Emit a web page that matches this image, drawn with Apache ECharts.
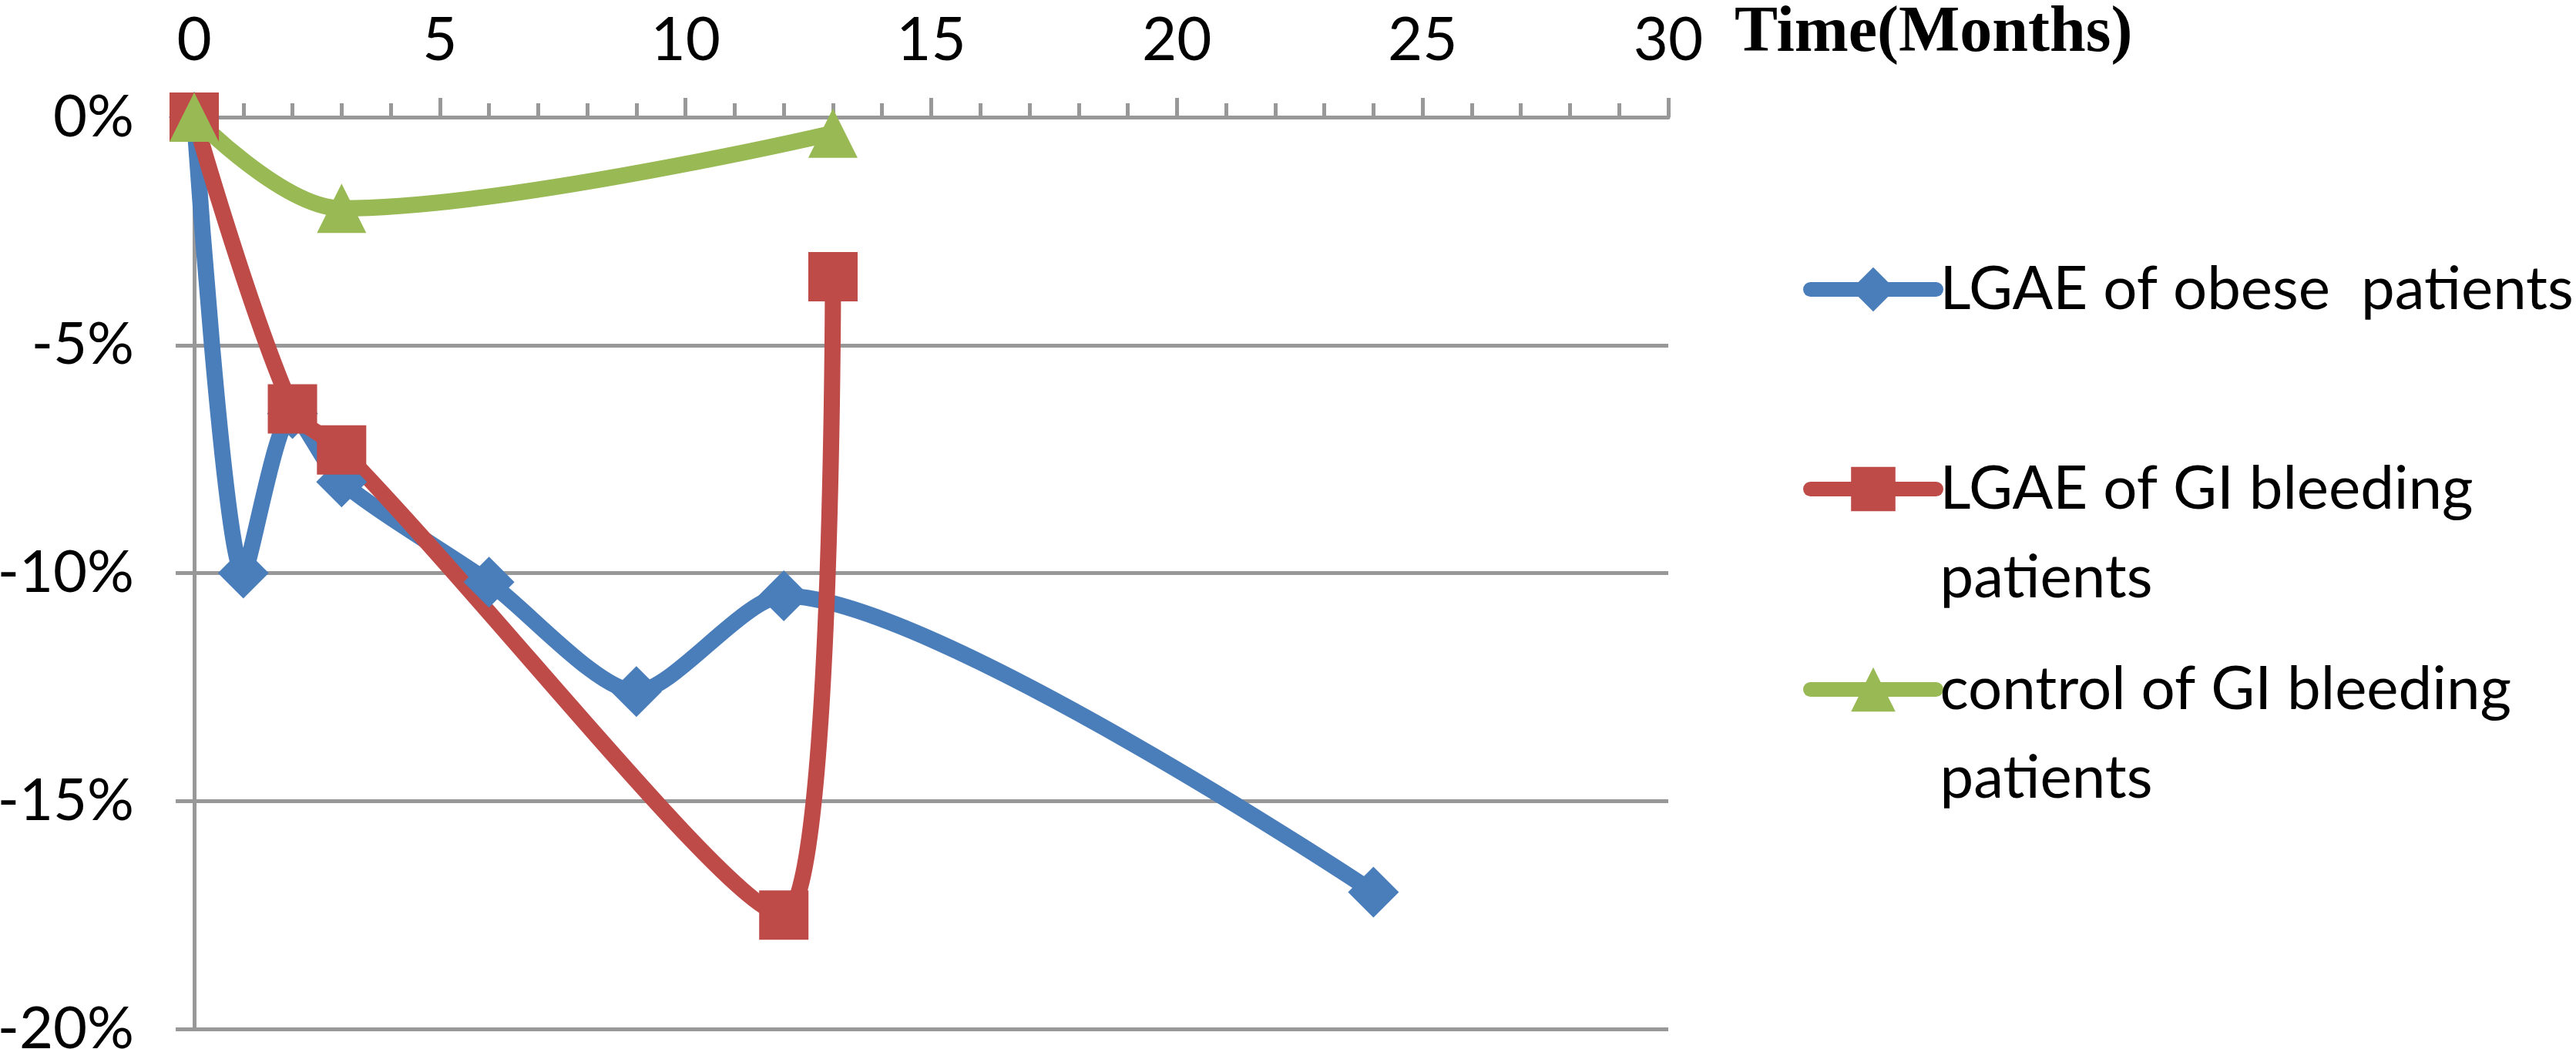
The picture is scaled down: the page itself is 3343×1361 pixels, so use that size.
<!DOCTYPE html>
<html>
<head>
<meta charset="utf-8">
<script src="https://cdn.jsdelivr.net/npm/echarts@6/dist/echarts.min.js"></script>
<style>
html, body { margin: 0; padding: 0; background: #ffffff; }
#chart { width: 3343px; height: 1361px; }
</style>
</head>
<body>
<div id="chart"></div>
<script>
// ---- data (months, % change) ----
const seriesNames = ['LGAE of obese  patients', 'LGAE of GI bleeding patients', 'control of GI bleeding patients'];
const legendLabels = ['LGAE of obese  patients', '\nLGAE of GI bleeding\npatients', '\ncontrol of GI bleeding\npatients'];

const obeseMonths = [0, 1, 2, 3, 6, 9, 12, 24];
const obeseValues = [0, -10, -6.5, -8, -10.2, -12.6, -10.5, -17];

const giMonths = [0, 2, 3, 12, 13];
const giValues = [0, -6.4, -7.3, -17.5, -3.5];

const ctrlMonths = [0, 3, 13];
const ctrlValues = [0, -2, -0.35];

const xMin = 0, xMax = 30, xStep = 5;
const yMin = -20, yMax = 0, yStep = 5;
const xAxisTitle = 'Time(Months)';

const colors = ['#4A7EBB', '#BE4B48', '#98B954'];
const gray = '#989898';

function pairs(xs, ys) { return xs.map((x, i) => [x, ys[i]]); }
const labelMap = {};
seriesNames.forEach((n, i) => { labelMap[n] = legendLabels[i]; });

const chart = echarts.init(document.getElementById('chart'), null, { renderer: 'canvas' });

const legendBase = {
  orient: 'vertical',
  padding: 0,
  itemWidth: 163,
  itemHeight: 72,
  itemGap: 0,
  left: 2340,
  formatter: (name) => labelMap[name],
  lineStyle: { width: 19, cap: 'round' },
  textStyle: { fontFamily: 'Lato', fontSize: 78, color: '#000', lineHeight: 115 }
};

const option = {
  animation: false,
  backgroundColor: '#ffffff',
  title: {
    text: xAxisTitle,
    left: 2251,
    top: 2,
    padding: 0,
    textStyle: { fontFamily: 'Liberation Serif', fontWeight: 'bold', fontSize: 84, color: '#000' }
  },
  legend: [
    Object.assign({}, legendBase, { data: [seriesNames[0]], top: 318 }),
    Object.assign({}, legendBase, { data: [seriesNames[1]], top: 462 }),
    Object.assign({}, legendBase, { data: [seriesNames[2]], top: 722 })
  ],
  grid: { left: 252, right: 1178, top: 152, bottom: 26, containLabel: false, outerBoundsMode: 'none' },
  xAxis: {
    type: 'value',
    position: 'top',
    min: xMin, max: xMax, interval: xStep,
    axisLine: { show: true, onZero: false, lineStyle: { color: gray, width: 5 } },
    axisTick: { show: true, length: 25, lineStyle: { color: gray, width: 5 } },
    minorTick: { show: true, splitNumber: 5, length: 18, lineStyle: { color: gray, width: 5 } },
    splitLine: { show: false },
    axisLabel: { fontFamily: 'Lato', fontSize: 78, color: '#000', margin: 60 }
  },
  yAxis: {
    type: 'value',
    min: yMin, max: yMax, interval: yStep,
    axisLine: { show: true, onZero: false, lineStyle: { color: gray, width: 5 } },
    axisTick: { show: true, length: 24, lineStyle: { color: gray, width: 5 } },
    splitLine: { show: true, lineStyle: { color: gray, width: 5 } },
    axisLabel: { fontFamily: 'Lato', fontSize: 76, color: '#000', margin: 78, formatter: '{value}%' }
  },
  series: [
    {
      name: seriesNames[0], type: 'line', smooth: 0.25, clip: false,
      data: pairs(obeseMonths, obeseValues),
      symbol: 'diamond', symbolSize: 66,
      lineStyle: { color: colors[0], width: 21, cap: 'round', join: 'round' },
      itemStyle: { color: colors[0] }
    },
    {
      name: seriesNames[1], type: 'line', smooth: 0.35, clip: false,
      data: pairs(giMonths, giValues),
      symbol: 'rect', symbolSize: 64,
      lineStyle: { color: colors[1], width: 21, cap: 'round', join: 'round' },
      itemStyle: { color: colors[1] }
    },
    {
      name: seriesNames[2], type: 'line', smooth: 0.35, clip: false,
      data: pairs(ctrlMonths, ctrlValues),
      symbol: 'triangle', symbolSize: 64,
      lineStyle: { color: colors[2], width: 21, cap: 'round', join: 'round' },
      itemStyle: { color: colors[2] }
    }
  ]
};

chart.setOption(option);
</script>
</body>
</html>
